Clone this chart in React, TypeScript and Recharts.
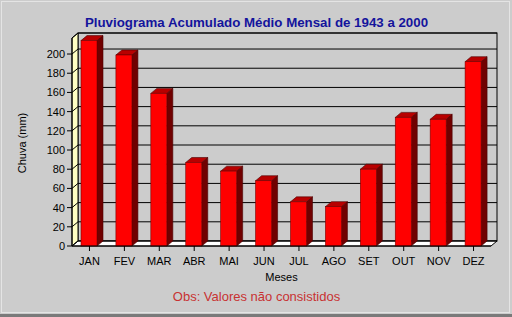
import React from 'react';
import { ComposedChart, Bar, XAxis, YAxis, CartesianGrid, ReferenceArea } from 'recharts';

const months = ['JAN', 'FEV', 'MAR', 'ABR', 'MAI', 'JUN', 'JUL', 'AGO', 'SET', 'OUT', 'NOV', 'DEZ'];
const rainfall = [214, 199, 159, 87, 78, 68, 46, 41, 80, 134, 132, 192];
const yTicks = [0, 20, 40, 60, 80, 100, 120, 140, 160, 180, 200];

const data = months.map((m, i) => ({ month: m, chuva: rainfall[i] }));

const DX = 6;
const DY = 5;
const FONT = '"Liberation Sans", Arial, sans-serif';

const Walls = (props: any) => {
  const { x, y, width, height } = props;
  const b = y + height;
  const r = x + width;
  return (
    <g>
      <rect x={x + DX} y={y - DY} width={width} height={height} fill="#cccccc" stroke="#000" strokeWidth={1} />
      <polygon
        points={`${x},${y} ${x + DX},${y - DY} ${x + DX},${b - DY} ${x},${b}`}
        fill="#ffffc4"
        stroke="#000"
        strokeWidth={1}
      />
      <polygon
        points={`${x},${b} ${r},${b} ${r + DX},${b - DY} ${x + DX},${b - DY}`}
        fill="#ffffff"
        stroke="#000"
        strokeWidth={1}
      />
    </g>
  );
};

const GridLine = (props: any) => {
  const { x1, y1, x2 } = props;
  return (
    <g key={props.key}>
      <line x1={x1 + DX} y1={y1 - DY} x2={x2 + DX} y2={y1 - DY} stroke="#000" strokeWidth={1} />
      <line x1={x1} y1={y1} x2={x1 + DX} y2={y1 - DY} stroke="#000" strokeWidth={1} />
    </g>
  );
};

const Bar3D = (props: any) => {
  const { x, y, width, height } = props;
  if (height == null || width == null) return null;
  const b = y + height;
  const r = x + width;
  return (
    <g>
      <polygon
        points={`${r},${y} ${r + DX},${y - DY} ${r + DX},${b - DY} ${r},${b}`}
        fill="#700000"
        stroke="#4a0000"
        strokeWidth={0.6}
      />
      <polygon
        points={`${x},${y} ${r},${y} ${r + DX},${y - DY} ${x + DX},${y - DY}`}
        fill="#b80000"
        stroke="#4a0000"
        strokeWidth={0.6}
      />
      <rect x={x} y={y} width={width} height={height} fill="#ff0000" stroke="#7a0000" strokeWidth={0.6} />
    </g>
  );
};

export default function App() {
  return (
    <div
      style={{
        position: 'absolute',
        left: 0,
        top: 0,
        width: 512,
        height: 317,
        background: '#cccccc',
        overflow: 'hidden',
      }}
    >
      <ComposedChart
        width={512}
        height={317}
        data={data}
        margin={{ top: 38, right: 21, bottom: 41, left: 32 }}
      >
        <ReferenceArea
          y1={0}
          y2={216.7}
          ifOverflow="visible"
          shape={<Walls />}
          zIndex={-200}
        />
        <CartesianGrid vertical={false} horizontal={GridLine as any} zIndex={-150} />
        <XAxis
          dataKey="month"
          height={30}
          tickSize={5}
          tickMargin={6}
          interval={0}
          axisLine={{ stroke: '#000' }}
          tickLine={{ stroke: '#000' }}
          tick={{ fill: '#000', fontSize: 11, fontFamily: FONT }}
        />
        <YAxis
          width={40}
          domain={[0, 216.7]}
          ticks={yTicks}
          interval={0}
          tickSize={5}
          tickMargin={2}
          axisLine={{ stroke: '#000' }}
          tickLine={{ stroke: '#000' }}
          tick={{ fill: '#000', fontSize: 11, fontFamily: FONT }}
        />
        <Bar dataKey="chuva" barSize={16} shape={<Bar3D />} isAnimationActive={false} />
      </ComposedChart>
      <svg
        width={512}
        height={317}
        style={{ position: 'absolute', left: 0, top: 0, pointerEvents: 'none' }}
      >
        <rect x={1.5} y={1.5} width={508} height={311} fill="none" stroke="#e4e4e4" strokeWidth={1} />
        <line x1={0} y1={315.5} x2={512} y2={315.5} stroke="#7a7a7a" strokeWidth={3} />
        <text
          x={256.5}
          y={27}
          textAnchor="middle"
          fontFamily={FONT}
          fontSize={13.3}
          fontWeight="bold"
          fill="#14149c"
        >
          Pluviograma Acumulado Médio Mensal de 1943 a 2000
        </text>
        <text x={281.5} y={281} textAnchor="middle" fontFamily={FONT} fontSize={11} fill="#000">
          Meses
        </text>
        <text
          x={26}
          y={143}
          textAnchor="middle"
          fontFamily={FONT}
          fontSize={11}
          fill="#000"
          transform="rotate(-90 26 143)"
        >
          Chuva (mm)
        </text>
        <text x={256.5} y={301} textAnchor="middle" fontFamily={FONT} fontSize={13} fill="#c83232">
          Obs: Valores não consistidos
        </text>
      </svg>
    </div>
  );
}
